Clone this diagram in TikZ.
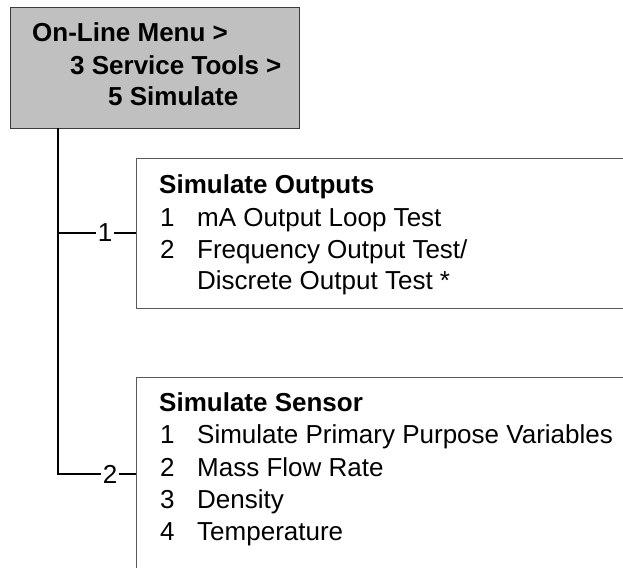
\documentclass[tikz,border=0pt]{standalone}
\usepackage{fontspec}
\setmainfont{Liberation Sans}
\definecolor{menugray}{HTML}{C0C0C0}
\definecolor{menuframe}{HTML}{3C3C3C}
\definecolor{panelframe}{HTML}{5A5A5A}

\begin{document}
\begin{tikzpicture}[x=1pt, y=-1pt,
  menutext/.style={anchor=base west, inner sep=0pt, font=\bfseries\fontsize{26}{31}\selectfont},
  titletext/.style={anchor=base west, inner sep=0pt, font=\bfseries\fontsize{26}{31}\selectfont},
  itemtext/.style={anchor=base west, inner sep=0pt, font=\fontsize{26}{31}\selectfont},
  branchlabel/.style={inner sep=1.2pt, font=\fontsize{26}{31}\selectfont},
  panel/.style={draw=panelframe, line width=1.2pt, anchor=north west, inner sep=0pt},
  trunk/.style={black, line width=1.5pt}]

  % Page frame (panels run off the right and bottom edges)
  \useasboundingbox (0,0) rectangle (623,567);
  \clip (0,0) rectangle (623,567);

  % --- Menu path box ---
  \node[panel, draw=menuframe, fill=menugray, minimum width=289pt, minimum height=121pt]
    (menu) at (10,7) {};
  \node[menutext] (path1) at (32,42) {On-Line Menu >};
  \node[menutext] (path2) at (70,75) {3 Service Tools >};
  \node[menutext] (path3) at (108,106) {5 Simulate};

  % --- Simulate Outputs panel ---
  \node[panel, minimum width=600pt, minimum height=150pt] (outputs) at (136,158) {};
  \node[titletext] (outtitle) at (159,193) {Simulate Outputs};
  \node[itemtext] (outnum1) at (160,226) {1};
  \node[itemtext] (outitem1) at (197,226) {mA Output Loop Test};
  \node[itemtext] (outnum2) at (160,258) {2};
  \node[itemtext] (outitem2) at (197,258) {Frequency Output Test/};
  \node[itemtext] (outitem2b) at (197,289) {Discrete Output Test *};

  % --- Simulate Sensor panel ---
  \node[panel, minimum width=600pt, minimum height=260pt] (sensor) at (136,377) {};
  \node[titletext] (sentitle) at (159,411.5) {Simulate Sensor};
  \node[itemtext] (sennum1) at (160,443.5) {1};
  \node[itemtext] (senitem1) at (197,443.5) {Simulate Primary Purpose Variables};
  \node[itemtext] (sennum2) at (160,476.5) {2};
  \node[itemtext] (senitem2) at (197,476.5) {Mass Flow Rate};
  \node[itemtext] (sennum3) at (160,508.5) {3};
  \node[itemtext] (senitem3) at (197,508.5) {Density};
  \node[itemtext] (sennum4) at (160,540.5) {4};
  \node[itemtext] (senitem4) at (197,540.5) {Temperature};

  % --- Tree connectors ---
  \coordinate (trunktop) at (58,128);
  \node[branchlabel] (branch1) at (105,233) {1};
  \node[branchlabel] (branch2) at (110,474) {2};

  \draw[trunk] (trunktop) |- (branch2.west);
  \draw[trunk] (trunktop |- branch1) -- (branch1.west);
  \draw[trunk] (branch1.east) -- (branch1.east -| outputs.west);
  \draw[trunk] (branch2.east) -- (branch2.east -| sensor.west);

\end{tikzpicture}
\end{document}
